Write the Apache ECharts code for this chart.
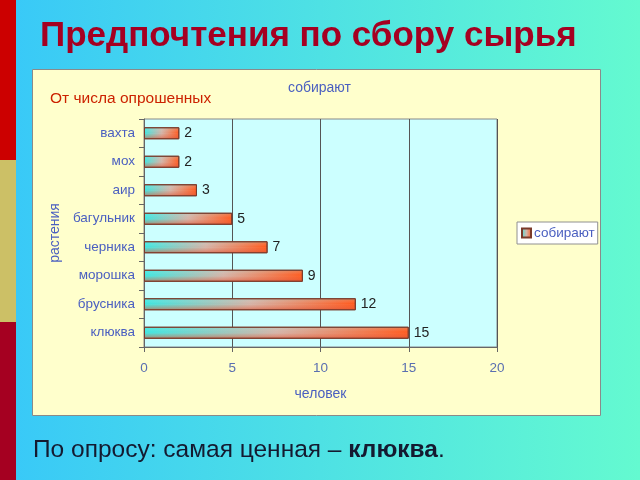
<!DOCTYPE html>
<html><head><meta charset="utf-8">
<style>html,body{margin:0;padding:0;}#c{width:640px;height:480px;}</style>
<script src="https://cdn.jsdelivr.net/npm/echarts@6/dist/echarts.min.js"></script>
</head><body><div id="c"></div>
<script>
const categories = ['вахта','мох','аир','багульник','черника','морошка','брусника','клюква'];
const values = [2,2,3,5,7,9,12,15];
const xTicks = [0,5,10,15,20];
const seriesName = 'собирают';

const FF = '"Liberation Sans", Arial, sans-serif';
const chart = echarts.init(document.getElementById('c'), null, {renderer:'canvas'});
const barGrad = new echarts.graphic.LinearGradient(0,0,1,0,[
  {offset:0,color:'#3EE6E0'},{offset:0.5,color:'#D4B4A8'},{offset:1,color:'#FF5A1E'}]);
const shadeGrad = new echarts.graphic.LinearGradient(0,0,0,1,[
  {offset:0,color:'rgba(120,240,235,0.25)'},{offset:0.45,color:'rgba(255,255,255,0)'},
  {offset:0.6,color:'rgba(235,110,80,0.15)'},{offset:1,color:'rgba(215,80,50,0.65)'}]);
chart.setOption({
  animation:false,
  backgroundColor:new echarts.graphic.LinearGradient(0,0,1,0,[
    {offset:0,color:'#38C8F8'},{offset:1,color:'#64FAD0'}]),
  graphic:[
    {type:'rect',shape:{x:0,y:0,width:16,height:160},style:{fill:'#CC0000'},z:-1},
    {type:'rect',shape:{x:0,y:160,width:16,height:162},style:{fill:'#CCC066'},z:-1},
    {type:'rect',shape:{x:0,y:322,width:16,height:158},style:{fill:'#A50021'},z:-1},
    {type:'rect',shape:{x:32.5,y:69.5,width:568,height:346},style:{fill:'#FFFFCC',stroke:'#8A8A8A',lineWidth:1},z:-1},
    {type:'text',left:40,top:19,style:{text:'Предпочтения по сбору сырья',font:'bold 35px '+FF,fill:'#A50021'}},
    {type:'text',left:50,top:91,style:{text:'От числа опрошенных',font:'15.5px '+FF,fill:'#CC2200'}},
    {type:'text',left:288,top:81,style:{text:'собирают',font:'14px '+FF,fill:'#4A5FC0'}},
    {type:'text',left:33,top:438,style:{text:'{n|По опросу: самая ценная – }{b|клюква}{n|.}',rich:{
      n:{font:'24.5px '+FF,fill:'#141a30'},
      b:{font:'bold 24.5px '+FF,fill:'#141a30'}}}}
  ],
  legend:{data:[seriesName],orient:'vertical',left:517,top:222,backgroundColor:'#FFFFFF',
    borderColor:'#909090',borderWidth:1,padding:[4,3,4,4],itemWidth:9,itemHeight:9,itemGap:4,icon:'rect',
    textStyle:{color:'#4A5FC0',fontSize:13.5,fontFamily:FF,padding:[0,0,0,-2]}},
  grid:{left:144,right:143,top:119,bottom:133,show:true,backgroundColor:'#CCFFFF',borderColor:'#888',borderWidth:1},
  xAxis:{type:'value',min:xTicks[0],max:xTicks[xTicks.length-1],interval:5,
    name:'человек',nameLocation:'middle',nameGap:40,
    nameTextStyle:{color:'#4A5FC0',fontSize:14,fontFamily:FF},
    axisLine:{show:true,lineStyle:{color:'#666'}},axisTick:{show:true,length:5,lineStyle:{color:'#666'}},
    splitLine:{show:true,lineStyle:{color:'#555',width:1}},
    axisLabel:{color:'#5A6FB0',fontSize:13.5,margin:14,fontFamily:FF}},
  yAxis:{type:'category',data:categories,inverse:true,
    name:'растения',nameLocation:'middle',nameGap:80,nameRotate:90,
    nameTextStyle:{color:'#4A5FC0',fontSize:14,fontFamily:FF},
    axisLine:{show:true,lineStyle:{color:'#666'}},axisTick:{show:true,length:5,lineStyle:{color:'#666'}},
    axisLabel:{color:'#4A5FC0',fontSize:13.5,margin:9,fontFamily:FF}},
  series:[{name:seriesName,type:'bar',data:values,barWidth:12,
    itemStyle:{color:barGrad,borderColor:'#7A3A2A',borderWidth:1},
    label:{show:true,position:'right',distance:5,color:'#222',fontSize:14,fontFamily:FF}},
    {name:'shade',type:'bar',data:values,barWidth:12,barGap:'-100%',silent:true,
    itemStyle:{color:shadeGrad,borderColor:'#7A3A2A',borderWidth:1},label:{show:false}}]
});
</script></body></html>
